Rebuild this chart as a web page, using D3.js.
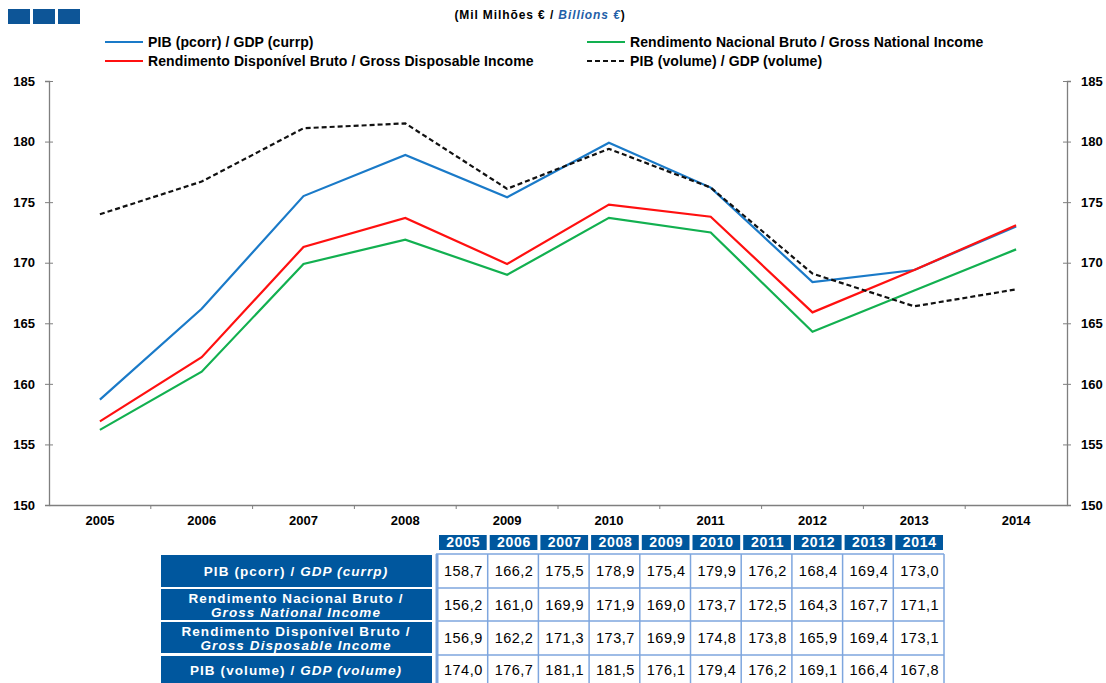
<!DOCTYPE html>
<html>
<head>
<meta charset="utf-8">
<script src="https://cdn.jsdelivr.net/npm/d3@7"></script>
<style>
  body { margin: 0; background: #fff; }
  svg { display: block; font-family: "Liberation Sans", Arial, sans-serif; }
</style>
</head>
<body>
<div id="chart"></div>
<script>
// Data
const years = [2005, 2006, 2007, 2008, 2009, 2010, 2011, 2012, 2013, 2014];
const pibCorr = [158.7, 166.2, 175.5, 178.9, 175.4, 179.9, 176.2, 168.4, 169.4, 173.0];
const rendNacional = [156.2, 161.0, 169.9, 171.9, 169.0, 173.7, 172.5, 164.3, 167.7, 171.1];
const rendDisponivel = [156.9, 162.2, 171.3, 173.7, 169.9, 174.8, 173.8, 165.9, 169.4, 173.1];
const pibVolume = [174.0, 176.7, 181.1, 181.5, 176.1, 179.4, 176.2, 169.1, 166.4, 167.8];
const yTicks = [150, 155, 160, 165, 170, 175, 180, 185];

const series = [
    { pt: 'PIB (pcorr) / ', en: 'GDP (currp)', legend: 'PIB (pcorr) / GDP (currp)', values: pibCorr, color: '#1a7ac8', dash: null },
    { pt: 'Rendimento Nacional Bruto /', en: 'Gross National Income', legend: 'Rendimento Nacional Bruto / Gross National Income', values: rendNacional, color: '#12b050', dash: null, twoLines: true },
    { pt: 'Rendimento Disponível Bruto /', en: 'Gross Disposable Income', legend: 'Rendimento Disponível Bruto / Gross Disposable Income', values: rendDisponivel, color: '#ff1010', dash: null, twoLines: true },
    { pt: 'PIB (volume) / ', en: 'GDP (volume)', legend: 'PIB (volume) / GDP (volume)', values: pibVolume, color: '#111', dash: '5,3' }
];

const dims = { width: 1106, height: 683, left: 49, right: 1067, top: 81, bottom: 505 };
const tableBlue = '#00579e';

const svg = d3.select('#chart').append('svg')
    .attr('width', dims.width)
    .attr('height', dims.height);

// header squares
svg.append('g').selectAll('rect')
    .data([0, 1, 2])
    .join('rect')
    .attr('x', d => 8 + d * 25)
    .attr('y', 9)
    .attr('width', 22)
    .attr('height', 15)
    .attr('fill', '#0d5597');

// title
const title = svg.append('text')
    .attr('x', 540).attr('y', 19)
    .attr('text-anchor', 'middle')
    .style('font-size', '12px').style('font-weight', 'bold').style('letter-spacing', '0.9px');
title.append('tspan').text('(Mil Milhões € / ');
title.append('tspan').text('Billions €').attr('fill', '#1f5fa8').style('font-style', 'italic');
title.append('tspan').text(')');

// Scales
const xScale = d3.scaleBand().domain(years).range([dims.left, dims.right]);
const yScale = d3.scaleLinear().domain([150, 185]).range([dims.bottom, dims.top]);

// Axes
const axisColor = '#7f7f7f';
const yLeft = svg.append('g')
    .attr('transform', `translate(${dims.left},0)`)
    .call(d3.axisLeft(yScale).tickValues(yTicks).tickSize(4).tickPadding(10));
const yRight = svg.append('g')
    .attr('transform', `translate(${dims.right},0)`)
    .call(d3.axisRight(yScale).tickValues(yTicks).tickSize(4).tickPadding(10));
[yLeft, yRight].forEach(g => {
    g.select('.domain').attr('stroke', axisColor).attr('stroke-width', 1.3);
    g.selectAll('.tick line').attr('stroke', axisColor).attr('x1', -4).attr('x2', 4);
    g.selectAll('.tick text').attr('fill', '#000')
        .style('font-size', '13px').style('font-weight', 'bold').style('font-family', '"Liberation Sans", Arial, sans-serif');
});

const xAxis = svg.append('g')
    .attr('transform', `translate(0,${dims.bottom})`)
    .call(d3.axisBottom(xScale).tickSize(0).tickPadding(11));
xAxis.select('.domain').attr('stroke', axisColor).attr('stroke-width', 1.3);
xAxis.selectAll('.tick text').attr('fill', '#000')
    .style('font-size', '13px').style('font-weight', 'bold').style('font-family', '"Liberation Sans", Arial, sans-serif');
// category separators
xAxis.selectAll('line.sep')
    .data(years.slice(1))
    .join('line')
    .attr('class', 'sep')
    .attr('x1', d => xScale(d)).attr('x2', d => xScale(d))
    .attr('y1', 0).attr('y2', 4)
    .attr('stroke', axisColor);

// Lines
const line = d3.line()
    .x((d, i) => xScale(years[i]) + xScale.bandwidth() / 2)
    .y(d => yScale(d));

svg.append('g').selectAll('path')
    .data(series)
    .join('path')
    .attr('d', d => line(d.values))
    .attr('fill', 'none')
    .attr('stroke', d => d.color)
    .attr('stroke-width', 2.2)
    .attr('stroke-dasharray', d => d.dash);

// Legend
const legendPos = [[105, 42], [587, 42], [105, 61], [587, 61]];
const legend = svg.append('g').selectAll('g')
    .data(series)
    .join('g')
    .attr('transform', (d, i) => `translate(${legendPos[i][0]},${legendPos[i][1]})`);
legend.append('line')
    .attr('x1', 0).attr('x2', 38)
    .attr('stroke', d => d.color)
    .attr('stroke-width', 2)
    .attr('stroke-dasharray', d => d.dash);
legend.append('text')
    .attr('x', 43).attr('y', 5)
    .style('font-size', '14px').style('font-weight', 'bold').style('letter-spacing', '0.1px')
    .text(d => d.legend);

// Table
const colScale = d3.scaleBand().domain(years).range([437, 944]);
const rowTops = [555, 589, 622, 656];
const rowBottoms = [587, 620, 653, 683];

const header = svg.append('g').selectAll('g')
    .data(years)
    .join('g');
header.append('rect')
    .attr('x', d => colScale(d) + 2)
    .attr('y', 535)
    .attr('width', colScale.bandwidth() - 3)
    .attr('height', 15)
    .attr('fill', tableBlue);
header.append('text')
    .attr('x', d => colScale(d) + colScale.bandwidth() / 2 + 1)
    .attr('y', 547)
    .attr('text-anchor', 'middle')
    .attr('fill', '#fff')
    .style('font-size', '14px').style('font-weight', 'bold').style('letter-spacing', '0.7px')
    .text(d => d);

// row labels
const rows = svg.append('g').selectAll('g')
    .data(series)
    .join('g');
rows.append('rect')
    .attr('x', 161)
    .attr('y', (d, i) => rowTops[i])
    .attr('width', 271)
    .attr('height', (d, i) => rowBottoms[i] - rowTops[i])
    .attr('fill', tableBlue);
rows.each(function(d, i) {
    const g = d3.select(this);
    const mid = (rowTops[i] + rowBottoms[i]) / 2;
    const style = t => t.attr('text-anchor', 'middle').attr('fill', '#fff')
        .style('font-size', '13.5px').style('font-weight', 'bold').style('letter-spacing', '1.1px');
    if (d.twoLines) {
        style(g.append('text').attr('x', 296).attr('y', mid - 2)).text(d.pt);
        style(g.append('text').attr('x', 296).attr('y', mid + 12)).style('font-style', 'italic').text(d.en);
    } else {
        const t = style(g.append('text').attr('x', 296).attr('y', mid + 5));
        t.append('tspan').text(d.pt);
        t.append('tspan').style('font-style', 'italic').text(d.en);
    }
});

// value cells
const gridColor = '#7ea6de';
const cells = svg.append('g');
series.forEach((s, i) => {
    cells.selectAll(null)
        .data(s.values)
        .join('text')
        .attr('x', (d, j) => colScale(years[j]) + colScale.bandwidth() / 2 + 1)
        .attr('y', (rowTops[i] + rowBottoms[i]) / 2 + 5)
        .attr('text-anchor', 'middle')
        .style('font-size', '14.5px').style('letter-spacing', '0.5px')
        .text(d => d.toFixed(1).replace('.', ','));
});
// grid lines
cells.selectAll('line.v')
    .data(years.concat(['end']))
    .join('line')
    .attr('class', 'v')
    .attr('x1', d => d === 'end' ? colScale.range()[1] : colScale(d))
    .attr('x2', d => d === 'end' ? colScale.range()[1] : colScale(d))
    .attr('y1', 554).attr('y2', 683)
    .attr('stroke', gridColor)
    .attr('stroke-width', (d, i) => i === 0 ? 3 : 1.5);
cells.selectAll('line.h')
    .data([554, 588, 621, 655])
    .join('line')
    .attr('class', 'h')
    .attr('x1', 436).attr('x2', 944)
    .attr('y1', d => d).attr('y2', d => d)
    .attr('stroke', gridColor)
    .attr('stroke-width', 1.5);
</script>
</body>
</html>
